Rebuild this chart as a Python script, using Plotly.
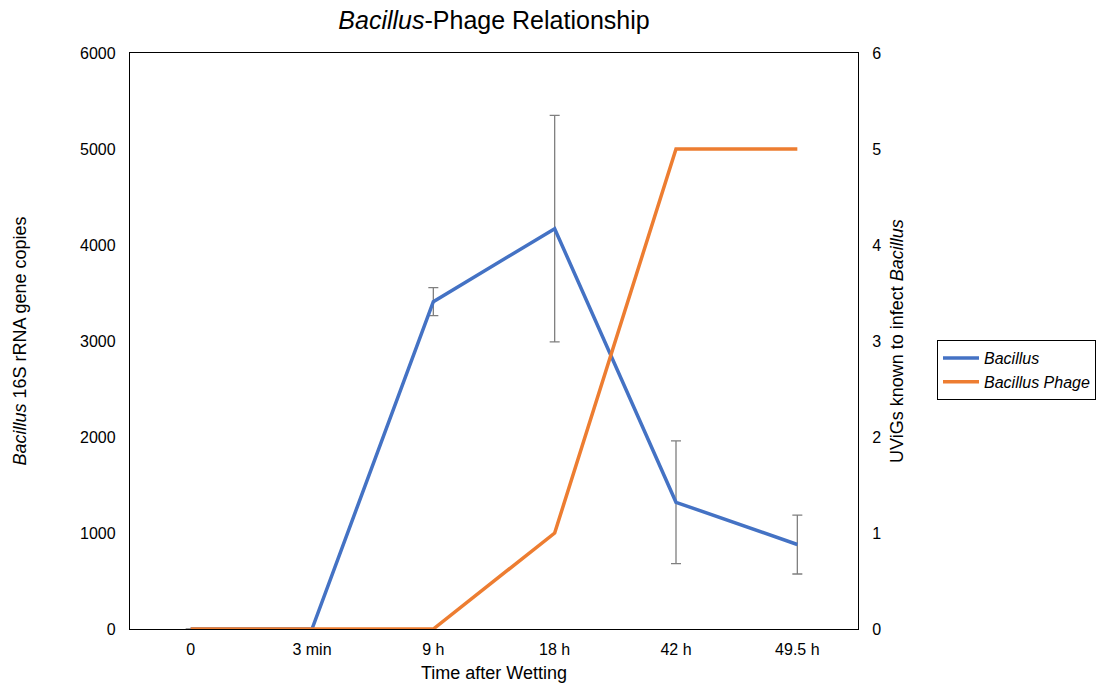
import plotly.graph_objects as go

categories = ["0", "3 min", "9 h", "18 h", "42 h", "49.5 h"]
bacillus = [0, 0, 3410, 4170, 1320, 880]
bacillus_err = [None, None, 145, 1180, 640, 307]
phage = [0, 0, 0, 1, 5, 5]

BLUE = "#4472C4"
ORANGE = "#ED7D31"
FONT = "Liberation Sans, Arial, sans-serif"

fig = go.Figure()
fig.add_trace(go.Scatter(
    x=categories, y=bacillus, mode="lines", name="<i>Bacillus</i>",
    line=dict(color=BLUE, width=3.5),
    error_y=dict(type="data", array=bacillus_err, visible=True,
                 color="#7F7F7F", thickness=1.3, width=5),
))
fig.add_trace(go.Scatter(
    x=categories, y=phage, mode="lines", name="<i>Bacillus Phage</i>",
    line=dict(color=ORANGE, width=3.5), yaxis="y2",
))

fig.update_layout(
    width=1096, height=683,
    margin=dict(l=130, r=238, t=53, b=54, autoexpand=False),
    paper_bgcolor="white", plot_bgcolor="white",
    font=dict(family=FONT, size=16, color="#000"),
    title=dict(text="<i>Bacillus</i>-Phage Relationship", x=494/1096, xanchor="center",
               y=1 - 20/683, yanchor="middle", font=dict(size=25, color="#000")),
    xaxis=dict(range=[-0.5, 5.5], showgrid=False, showline=True, linecolor="#000",
               linewidth=1.3, mirror=True, ticks="", zeroline=False,
               ticklabelstandoff=6, automargin=False,
               title=dict(text="Time after Wetting", standoff=10, font=dict(size=18)),
               tickfont=dict(size=16)),
    yaxis=dict(range=[0, 6000], dtick=1000, showgrid=False, showline=True,
               linecolor="#000", linewidth=1.3, ticks="", zeroline=False,
               tickfont=dict(size=16), ticklabelstandoff=10, automargin=False,
               title=dict(text="<i>Bacillus</i> 16S rRNA gene copies", standoff=48,
                          font=dict(size=18))),
    yaxis2=dict(range=[0, 6], dtick=1, overlaying="y", side="right",
                showgrid=False, showline=True, linecolor="#000", linewidth=1.3,
                ticks="", zeroline=False, tickfont=dict(size=16), ticklabelstandoff=10,
                automargin=False,
                title=dict(text="UViGs known to infect <i>Bacillus</i>", standoff=10,
                           font=dict(size=18))),
    legend=dict(x=(937 - 130) / 728, y=(629 - 340) / 576, xanchor="left", yanchor="top",
                bordercolor="#000", borderwidth=1, bgcolor="white",
                itemwidth=36, font=dict(size=16)),
    showlegend=True,
)

fig.write_html("out.html")
